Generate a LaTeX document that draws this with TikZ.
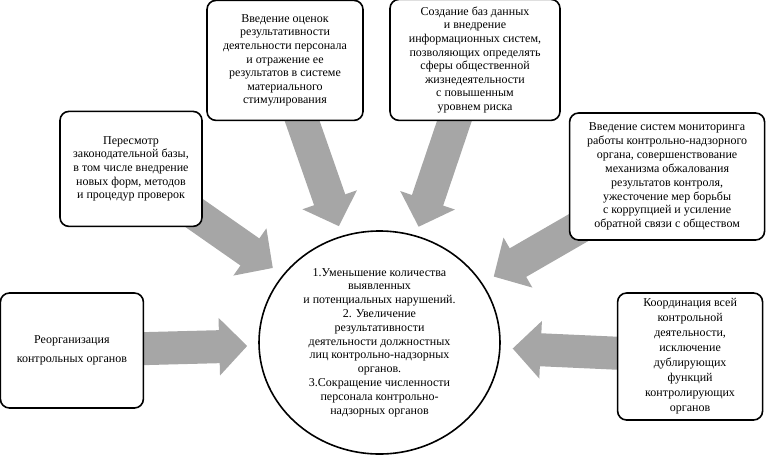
\documentclass[tikz,border=0pt]{standalone}
\usepackage{fontspec}
\setmainfont{Liberation Serif}
\usetikzlibrary{arrows.meta, positioning, shapes.geometric, backgrounds}
\tikzset{
    %Define style for boxes
    blokk/.style={
           rectangle,
           rounded corners=9pt,
           draw=black, line width=1.6pt,
           fill=white,
           align=center,
           inner sep=2pt,
           font=\fontsize{12}{13.6}\selectfont},
    %Define style for the result ellipse
    rezultat/.style={
           ellipse,
           draw=black, line width=1.6pt,
           fill=white,
           align=center,
           inner sep=-20pt,
           minimum width=241pt,
           minimum height=223pt,
           font=\fontsize{12}{13.8}\selectfont},
    % Define arrow style
    strelka/.style={
           -{Triangle[width=56pt, length=28pt]},
           line width=33pt,
           draw=black!35}
}
\begin{document}
\begin{tikzpicture}
	\useasboundingbox (0,0) rectangle (766pt,-456pt);
	%
	% uzly
	%
	\node[rezultat] (rez) at (379.5pt,-342.5pt) {1.Уменьшение количества\\выявленных\\и потенциальных нарушений.\\2. Увеличение\\результативности\\деятельности должностных\\лиц контрольно-надзорных\\органов.\\3.Сокращение численности\\персонала контрольно-\\надзорных органов};
	\node[blokk, minimum width=143pt, minimum height=115pt, left=114pt of rez, yshift=-8pt] (reorg) {Реорганизация\\[6pt]контрольных органов};
	\node[blokk, minimum width=145pt, minimum height=127pt, right=116pt of rez, yshift=-14pt, font=\fontsize{12}{15}\selectfont] (koord) {Координация всей\\контрольной\\деятельности,\\исключение\\дублирующих\\функций\\контролирующих\\органов};
	\node[blokk, minimum width=142pt, minimum height=115pt, above=3pt of rez, xshift=-248.5pt] (peresm) {Пересмотр\\законодательной базы,\\в том числе внедрение\\новых форм, методов\\и процедур проверок};
	\node[blokk, minimum width=156pt, minimum height=120pt, above=109pt of rez, xshift=-94.5pt] (ocenki) {Введение оценок\\результативности\\деятельности персонала\\и отражение ее\\результатов в системе\\материального\\стимулирования};
	\node[blokk, minimum width=170pt, minimum height=121pt, above=109pt of rez, xshift=95.5pt] (bazy) {Создание баз данных\\и внедрение\\информационных систем,\\позволяющих определять\\сферы общественной\\жизнедеятельности\\с повышенным\\уровнем риска};
	\node[blokk, minimum width=195pt, minimum height=127pt, right=68pt of rez, yshift=166pt, font=\fontsize{12}{13.9}\selectfont] (monit) {Введение систем мониторинга\\работы контрольно-надзорного\\органа, совершенствование\\механизма обжалования\\результатов контроля,\\ужесточение мер борьбы\\с коррупцией и усиление\\обратной связи с обществом};
	%
	% strelki
	%
	\begin{scope}[on background layer]
	\draw[strelka, shorten >=11pt] (reorg.center) -- (rez);
	\draw[strelka, shorten >=12pt] (koord.center) -- (rez);
	\draw[strelka, shorten >=12pt] (peresm.center) -- (rez);
	\draw[strelka, shorten >=10pt] ([xshift=-4pt]ocenki.center) -- (rez);
	\draw[strelka, shorten >=9pt] (bazy.center) -- (rez);
	\draw[strelka, shorten >=13pt] (monit.center) -- (rez);
	\end{scope}
\end{tikzpicture}
\end{document}
